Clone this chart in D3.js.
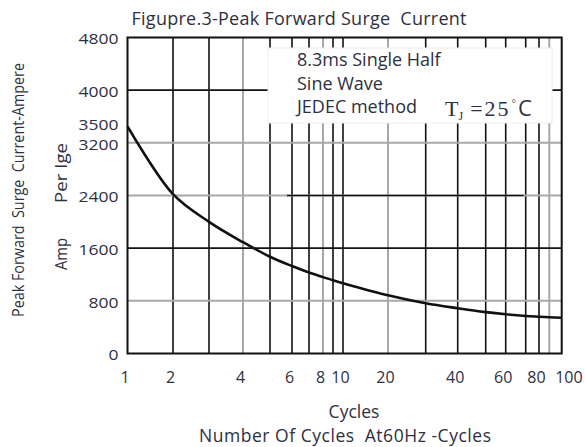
<!DOCTYPE html>
<html>
<head>
<meta charset="utf-8">
<script src="https://cdn.jsdelivr.net/npm/d3@7"></script>
<style>
  body { margin: 0; background: #fff; }
  svg { display: block; font-family: "Open Sans", "Noto Sans", sans-serif; }
  svg text { white-space: pre; }
</style>
</head>
<body>
<svg id="chart" width="585" height="447"></svg>
<script>
// curve, one point per grid line
const cycles = [1, 2, 3, 4, 5, 6, 7, 8, 9, 10, 20, 30, 40, 50, 60, 70, 80, 90, 100];
const surgeAmps = [3450, 2420, 2000, 1690, 1470, 1328, 1230, 1160, 1112, 1068, 885, 763, 687, 628, 595, 570, 559, 551, 544];

const xTickValues = [1, 2, 4, 6, 8, 10, 20, 40, 60, 80, 100];
const yTickValues = [0, 800, 1600, 2400, 3200, 3500, 4000, 4800];
const xGridValues = [2, 3, 4, 5, 6, 7, 8, 9, 10, 20, 30, 40, 50, 60, 70, 80, 90];
const xGridGray = [4, 8, 20, 90];
const yGridValues = [800, 1600, 2400, 3200, 4000];
const yGridGray = [800, 2400, 3200];

const legendLines = ['8.3ms Single Half', 'Sine Wave', 'JEDEC method'];

const svg = d3.select('#chart');
const ink = '#2e2f42';

// the printed log grid is hand-spaced, so the x scale follows the drawn grid lines
const x = d3.scaleLinear()
  .domain(cycles)
  .range([127.5, 173, 209, 243, 270, 292, 309, 323, 333, 343, 388, 425.7, 457.7, 485.7, 505.7, 525.7, 539, 549.3, 561.7]);

const y = d3.scaleLinear()
  .domain([0, 4800])
  .range([353.5, 37.5]);

const grid = svg.append('g');

grid.selectAll('line.vx')
  .data(xGridValues)
  .enter().append('line')
  .attr('class', 'vx')
  .attr('x1', d => x(d)).attr('x2', d => x(d))
  .attr('y1', y(4800)).attr('y2', y(0))
  .attr('stroke', d => xGridGray.includes(d) ? '#a8a8a8' : '#111')
  .attr('stroke-width', d => xGridGray.includes(d) ? 2 : 1.6);

grid.selectAll('line.hy')
  .data(yGridValues)
  .enter().append('line')
  .attr('class', 'hy')
  .attr('x1', x(1)).attr('x2', x(100))
  .attr('y1', d => y(d)).attr('y2', d => y(d))
  .attr('stroke', d => yGridGray.includes(d) ? '#a8a8a8' : '#111')
  .attr('stroke-width', d => yGridGray.includes(d) ? 2 : 1.6);

// darker middle stretch of the 2400 line
grid.append('line')
  .attr('x1', x(6) - 5).attr('x2', x(70) - 2)
  .attr('y1', y(2400)).attr('y2', y(2400))
  .attr('stroke', '#111').attr('stroke-width', 1.4);

// legend box sits over the grid
svg.append('rect')
  .attr('x', 268).attr('y', 48)
  .attr('width', 284).attr('height', 75)
  .attr('fill', '#fff')
  .attr('stroke', '#ececec').attr('stroke-width', 1);

svg.append('rect')
  .attr('x', x(1)).attr('y', y(4800))
  .attr('width', x(100) - x(1)).attr('height', y(0) - y(4800))
  .attr('fill', 'none').attr('stroke', '#111').attr('stroke-width', 2);

const line = d3.line()
  .x((d, i) => x(cycles[i]))
  .y(d => y(d))
  .curve(d3.curveCatmullRom.alpha(0.5));

svg.append('path')
  .datum(surgeAmps)
  .attr('d', line)
  .attr('fill', 'none')
  .attr('stroke', '#111')
  .attr('stroke-width', 2.6);

// axes: labels only
const xAxis = svg.append('g')
  .attr('transform', 'translate(0,' + y(0) + ')')
  .call(d3.axisBottom(x).tickValues(xTickValues).tickSize(0).tickPadding(18).tickFormat(d3.format('d')));

const yAxis = svg.append('g')
  .attr('transform', 'translate(' + x(1) + ',0)')
  .call(d3.axisLeft(y).tickValues(yTickValues).tickSize(0).tickPadding(9).tickFormat(d3.format('d')));

[xAxis, yAxis].forEach(a => {
  a.select('.domain').remove();
  a.selectAll('text')
    .attr('fill', ink)
    .style('font-family', '"Open Sans", sans-serif');
});
xAxis.selectAll('text').style('font-size', '16px').attr('dx', -3);
// last label hangs past the frame
xAxis.selectAll('text').filter(d => d === 100)
  .attr('text-anchor', 'start').attr('dx', -7);
// printed digits are wide and short
yAxis.selectAll('text')
  .style('font-size', '14px')
  .attr('dy', '0.45em')
  .attr('textLength', d => String(d).length * 10)
  .attr('lengthAdjust', 'spacingAndGlyphs');

svg.append('text')
  .attr('x', 299).attr('y', 25)
  .attr('text-anchor', 'middle')
  .attr('fill', ink)
  .attr('textLength', 335)
  .style('font-size', '18px')
  .text('Figupre.3-Peak Forward Surge  Current');

svg.selectAll('text.legend')
  .data(legendLines)
  .enter().append('text')
  .attr('class', 'legend')
  .attr('x', 297)
  .attr('y', (d, i) => 66 + i * 23.7)
  .attr('fill', ink)
  .style('font-size', '18px')
  .text(d => d);

const tj = svg.append('text')
  .attr('x', 445).attr('y', 116)
  .attr('fill', ink)
  .style('font-family', '"Liberation Serif", serif')
  .style('font-size', '22px');
tj.append('tspan').text('T');
tj.append('tspan').attr('dy', 4).style('font-size', '12px').text('J');
tj.append('tspan').attr('dy', -4).attr('dx', 7).attr('letter-spacing', 2).text('=25');
tj.append('tspan').attr('dy', -9).attr('dx', 1).style('font-size', '11px').text('°');
tj.append('tspan').attr('dy', 9).attr('dx', 2).style('font-family', '"Open Sans", sans-serif').text('C');

svg.append('text')
  .attr('x', 354).attr('y', 418)
  .attr('text-anchor', 'middle')
  .attr('fill', ink)
  .style('font-size', '17.5px')
  .text('Cycles');

svg.append('text')
  .attr('x', 345).attr('y', 442)
  .attr('text-anchor', 'middle')
  .attr('fill', ink)
  .attr('textLength', 292)
  .style('font-size', '17.5px')
  .text('Number Of Cycles  At60Hz -Cycles');

svg.append('text')
  .attr('transform', 'translate(24,190) rotate(-90)')
  .attr('text-anchor', 'middle')
  .attr('fill', ink)
  .attr('textLength', 254)
  .attr('lengthAdjust', 'spacingAndGlyphs')
  .style('font-size', '16px')
  .text('Peak Forward  Surge  Current-Ampere');

svg.append('text')
  .attr('transform', 'translate(67,173) rotate(-90)')
  .attr('text-anchor', 'middle')
  .attr('fill', ink)
  .attr('textLength', 60)
  .attr('lengthAdjust', 'spacingAndGlyphs')
  .style('font-size', '16px')
  .text('Per Ige');

svg.append('text')
  .attr('transform', 'translate(67,254) rotate(-90)')
  .attr('text-anchor', 'middle')
  .attr('fill', ink)
  .attr('textLength', 32)
  .attr('lengthAdjust', 'spacingAndGlyphs')
  .style('font-size', '16px')
  .text('Amp');
</script>
</body>
</html>
